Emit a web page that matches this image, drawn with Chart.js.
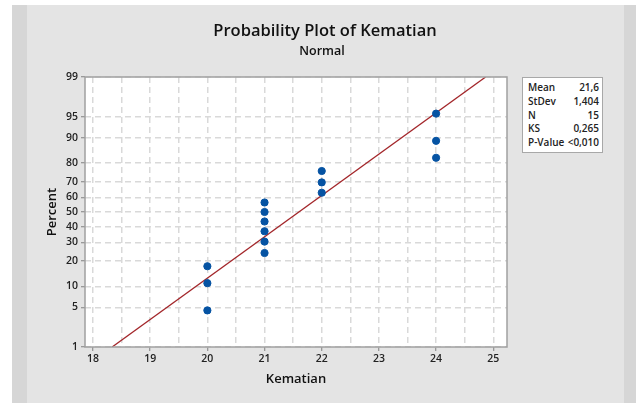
<!DOCTYPE html>
<html>
<head>
<meta charset="utf-8">
<script src="https://cdn.jsdelivr.net/npm/chart.js@4.4.0/dist/chart.umd.min.js"></script>
<style>
  body { margin: 0; background: #fff; width: 636px; height: 403px; overflow: hidden; position: relative; font-family: "Open Sans", sans-serif; }
  #stripL { position: absolute; left: 12px; top: 5px; width: 15px; height: 398px; background: #d6d6d6; }
  #panel { position: absolute; left: 27px; top: 5px; width: 597px; height: 398px; background: #e4e4e4; }
  #stripR { position: absolute; left: 624px; top: 5px; width: 12px; height: 398px; background: #d6d6d6; }
  #wrap { position: absolute; left: 0; top: 0; width: 636px; height: 403px; }
  #stats { position: absolute; left: 522px; top: 77px; width: 81px; height: 76px; background: #fff;
           border: 1px solid #a8a8a8; font-size: 10px; font-weight: 600; color: #222; padding: 3px 0 0 0; box-sizing: border-box; }
  #stats div { display: flex; justify-content: space-between; padding: 0 3px 0 5px; line-height: 13.8px; }
</style>
</head>
<body>
<div id="stripL"></div>
<div id="panel"></div>
<div id="stripR"></div>
<div id="wrap"><canvas id="chart"></canvas></div>
<div id="stats"></div>
<script>
// observed values and their plotting positions (percent)
const kematian = [20, 20, 20, 21, 21, 21, 21, 21, 21, 22, 22, 22, 24, 24, 24];
const percentRank = [4.5, 11.0, 17.5, 24.0, 30.5, 37.0, 43.5, 50.0, 56.5, 63.0, 69.5, 76.0, 82.5, 89.0, 95.5];

// fitted normal line end points (x, percent)
const fitX = [18.334, 24.866];
const fitP = [1, 99];

// percent axis ticks
const yTickPct = [1, 5, 10, 20, 30, 40, 50, 60, 70, 80, 90, 95, 99];

// summary table
const statLabels = ['Mean', 'StDev', 'N', 'KS', 'P-Value'];
const statValues = ['21,6', '1,404', '15', '0,265', '<0,010'];

// inverse standard normal cdf (Acklam)
function probit(p) {
    const a = [-3.969683028665376e+01, 2.209460984245205e+02, -2.759285104469687e+02, 1.383577518672690e+02, -3.066479806614716e+01, 2.506628277459239e+00];
    const b = [-5.447609879822406e+01, 1.615858368580409e+02, -1.556989798598866e+02, 6.680131188771972e+01, -1.328068155288572e+01];
    const c = [-7.784894002430293e-03, -3.223964580411365e-01, -2.400758277161838e+00, -2.549732539343734e+00, 4.374664141464968e+00, 2.938163982698783e+00];
    const d = [7.784695709041462e-03, 3.224671290700398e-01, 2.445134137142996e+00, 3.754408661907416e+00];
    const pl = 0.02425;
    let q, r;
    if (p < pl) {
        q = Math.sqrt(-2 * Math.log(p));
        return (((((c[0]*q+c[1])*q+c[2])*q+c[3])*q+c[4])*q+c[5]) / ((((d[0]*q+d[1])*q+d[2])*q+d[3])*q+1);
    }
    if (p > 1 - pl) {
        q = Math.sqrt(-2 * Math.log(1 - p));
        return -(((((c[0]*q+c[1])*q+c[2])*q+c[3])*q+c[4])*q+c[5]) / ((((d[0]*q+d[1])*q+d[2])*q+d[3])*q+1);
    }
    q = p - 0.5; r = q * q;
    return (((((a[0]*r+a[1])*r+a[2])*r+a[3])*r+a[4])*r+a[5])*q / (((((b[0]*r+b[1])*r+b[2])*r+b[3])*r+b[4])*r+1);
}
const z = pct => probit(pct / 100);

// stats box
const statsEl = document.getElementById('stats');
statLabels.forEach((l, i) => {
    const row = document.createElement('div');
    row.innerHTML = '<span>' + l + '</span><span>' + statValues[i] + '</span>';
    statsEl.appendChild(row);
});

const FONT = '"Open Sans", sans-serif';
const tickFont = { family: FONT, size: 10.5, weight: '600' };

// titles + plot frame
const framePlugin = {
    id: 'frame',
    beforeDraw(chart) {
        const { ctx, chartArea: a } = chart;
        ctx.save();
        ctx.fillStyle = '#fff';
        ctx.fillRect(a.left, a.top, a.right - a.left, a.bottom - a.top);
        ctx.fillStyle = '#111';
        ctx.textAlign = 'center';
        ctx.textBaseline = 'middle';
        ctx.font = '600 16.5px ' + FONT;
        ctx.fillText('Probability Plot of Kematian', 325, 31);
        ctx.font = '600 12.5px ' + FONT;
        ctx.fillText('Normal', 322, 51);
        ctx.restore();
    },
    afterDraw(chart) {
        const { ctx, chartArea: a } = chart;
        ctx.save();
        ctx.strokeStyle = '#a0a0a0';
        ctx.lineWidth = 1.5;
        ctx.strokeRect(a.left, a.top, a.right - a.left, a.bottom - a.top);
        ctx.restore();
    }
};

const gridOpts = {
    color: '#d9d9d9',
    lineWidth: 1.5,
    drawTicks: true,
    tickLength: 4,
    tickBorderDash: [],
    tickWidth: 1
};

new Chart(document.getElementById('chart'), {
    data: {
        datasets: [{
            type: 'line',
            data: fitX.map((x, i) => ({ x: x, y: z(fitP[i]) })),
            borderColor: '#a3262a',
            borderWidth: 1.3,
            pointRadius: 0,
            order: 2
        }, {
            type: 'scatter',
            data: kematian.map((x, i) => ({ x: x, y: z(percentRank[i]) })),
            backgroundColor: '#0553a3',
            borderColor: '#0553a3',
            pointRadius: 3.6,
            order: 1
        }]
    },
    options: {
        responsive: true,
        maintainAspectRatio: false,
        animation: false,
        devicePixelRatio: 1,
        layout: { padding: { left: 0, right: 129, top: 77, bottom: 0 } },
        plugins: { legend: { display: false }, tooltip: { enabled: false } },
        scales: {
            x: {
                type: 'linear',
                min: 17.86,
                max: 25.24,
                afterFit: s => { s.height = 56; },
                ticks: {
                    stepSize: 0.5,
                    includeBounds: false,
                    autoSkip: false,
                    maxRotation: 0,
                    padding: 2,
                    color: '#222',
                    font: tickFont,
                    callback: v => Number.isInteger(v) ? v : ''
                },
                grid: Object.assign({}, gridOpts, {
                    tickColor: ctx => Number.isInteger(ctx.tick.value) ? '#808080' : 'rgba(0,0,0,0)'
                }),
                border: { display: false, dash: [6, 4] },
                title: { display: true, text: 'Kematian', color: '#111', font: { family: FONT, size: 13, weight: '600' }, padding: { top: 0, bottom: 16 } }
            },
            y: {
                type: 'linear',
                min: z(1),
                max: z(99),
                afterFit: s => { s.width = 85; },
                afterBuildTicks: s => { s.ticks = yTickPct.map(p => ({ value: z(p) })); },
                ticks: {
                    autoSkip: false,
                    padding: 3,
                    color: '#222',
                    font: tickFont,
                    callback: (v, i) => yTickPct[i]
                },
                grid: Object.assign({}, gridOpts, { tickColor: '#808080' }),
                border: { display: false, dash: [6, 4] },
                title: { display: true, text: 'Percent', color: '#111', font: { family: FONT, size: 13, weight: '600' }, padding: { top: 44, bottom: 0 } }
            }
        }
    },
    plugins: [framePlugin]
});
</script>
</body>
</html>
